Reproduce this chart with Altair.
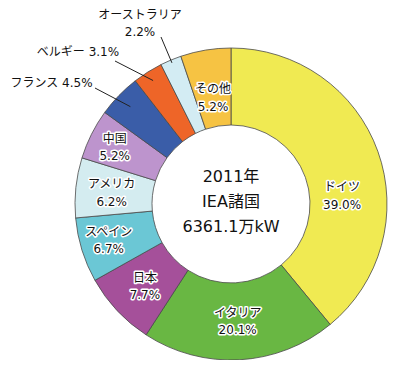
import altair as alt
import pandas as pd

# ---- data ----
countries = ["ドイツ", "イタリア", "日本", "スペイン", "アメリカ", "中国", "フランス", "ベルギー", "オーストラリア", "その他"]
shares = [39.0, 20.1, 7.7, 6.7, 6.2, 5.2, 4.5, 3.1, 2.2, 5.2]
colors = ["#F0EA52", "#69B743", "#A5509A", "#6BC7D5", "#D4ECF0", "#BD94CD", "#3A5DA8", "#EE6528", "#D3ECF3", "#F6C343"]
center_lines = ["2011年", "IEA諸国", "6361.1万kW"]

df = pd.DataFrame({"name": countries, "value": shares, "idx": list(range(len(countries)))})
df["label"] = [f"{n}\n{v:.1f}%" for n, v in zip(countries, shares)]
df["ext"] = [f"{n} {v:.1f}%" for n, v in zip(countries, shares)]

# ---- layout (plot coords = page - 8) ----
CX, CY = 223, 196
R_IN, R_OUT = 79, 156
FONT = "DejaVu Sans, 'Noto Sans CJK JP'"
FS = 12
LH = 17.5

inner_layout = {  # name: (radius, dx, dy)
    "ドイツ": (118, 0, 23),
    "イタリア": (118, 0, -9),
    "日本": (118, 0, -7),
    "スペイン": (128, 0, -10),
    "アメリカ": (120, 0, -7),
    "中国": (130, 0, -7),
    "その他": (110, 0, -6),
}
ext_layout = {  # name: (anchor radius, line end x, line end y, text x, text y)
    "フランス": (140, 87, 80, 43.5, 75),
    "ベルギー": (146, 107, 53, 70, 44),
    "オーストラリア": (153, 153, 29, 132, 7),
}

base = alt.Chart(df).transform_joinaggregate(
    total="sum(value)"
).transform_window(
    cum="sum(value)", sort=[alt.SortField("idx")], frame=[None, 0]
).transform_calculate(
    mid="(datum.cum - datum.value/2) / datum.total * 2 * PI"
)

arcs = alt.Chart(df).mark_arc(
    innerRadius=R_IN, outerRadius=R_OUT, stroke="#4a4a4a", strokeWidth=0.8
).encode(
    theta=alt.Theta("value:Q", stack=True),
    order=alt.Order("idx:Q"),
    color=alt.Color("name:N", scale=alt.Scale(domain=countries, range=colors), legend=None),
    x=alt.value(CX), y=alt.value(CY),
)

layers = [arcs]

for name, (r, dx, dy) in inner_layout.items():
    b = base.transform_filter(alt.datum.name == name).transform_calculate(
        lx=f"{CX} + {r} * sin(datum.mid)", ly=f"{CY} - {r} * cos(datum.mid)"
    )
    enc = dict(x=alt.X("lx:Q", scale=None, axis=None), y=alt.Y("ly:Q", scale=None, axis=None), text="label:N")
    halo = b.mark_text(font=FONT, fontSize=FS, lineBreak="\n", lineHeight=LH, dx=dx, dy=dy,
                       stroke="white", strokeWidth=3, strokeJoin="round", fill="white",
                       align="center", baseline="middle").encode(**enc)
    txt = b.mark_text(font=FONT, fontSize=FS, lineBreak="\n", lineHeight=LH, dx=dx, dy=dy,
                      fill="#111111", align="center", baseline="middle").encode(**enc)
    layers += [halo, txt]

for name, (r, ex, ey, tx, ty) in ext_layout.items():
    b = base.transform_filter(alt.datum.name == name).transform_calculate(
        ax=f"{CX} + {r} * sin(datum.mid)", ay=f"{CY} - {r} * cos(datum.mid)"
    )
    rule = b.mark_rule(color="#222222", strokeWidth=1).encode(
        x=alt.X("ax:Q", scale=None, axis=None), y=alt.Y("ay:Q", scale=None, axis=None),
        x2=alt.value(ex), y2=alt.value(ey),
    )
    if name == "オーストラリア":
        t = b.mark_text(font=FONT, fontSize=FS, lineBreak="\n", lineHeight=16.5, fill="#111111",
                        align="center", baseline="middle").encode(
            x=alt.value(tx), y=alt.value(ty), text="label:N")
    else:
        t = b.mark_text(font=FONT, fontSize=FS, fill="#111111", align="center", baseline="middle").encode(
            x=alt.value(tx), y=alt.value(ty), text="ext:N")
    layers += [rule, t]

center = alt.Chart(pd.DataFrame({"t": ["\n".join(center_lines)]})).mark_text(
    font=FONT, fontSize=16, lineBreak="\n", lineHeight=25, fill="#111111",
    align="center", baseline="middle"
).encode(x=alt.value(CX), y=alt.value(CY - 27), text="t:N")
layers.append(center)

chart = alt.layer(*layers).properties(
    width=384, height=352, padding=0, autosize=alt.AutoSizeParams(type="none")
).configure_view(stroke=None)

chart.save("out.html", embed_options={"renderer": "svg", "actions": False})
